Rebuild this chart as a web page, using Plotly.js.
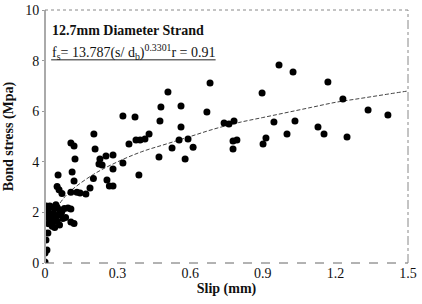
<!DOCTYPE html>
<html><head><meta charset="utf-8">
<script src="https://cdn.plot.ly/plotly-3.0.1.min.js"></script>
<style>body{margin:0;background:#fff}#chart{width:422px;height:304px}</style>
</head><body><div id="chart"></div>
<script>
// Measured data: slip (mm) and bond stress (MPa)
const slip = [0.967,1.025,1.169,0.897,1.231,1.335,1.417,0.740,0.760,0.781,0.946,1.033,1.128,1.153,1.248,1.000,0.777,0.793,0.777,0.913,0.901,
  0.682,0.669,0.612,0.591,0.554,0.562,0.562,0.508,0.479,0.475,0.525,0.579,0.471,
  0.322,0.372,0.376,0.393,0.413,0.430,0.347,0.388,0.322,0.281,0.256,0.266,0.281,0.236,0.227,0.252,0.281,0.223,0.207,0.202,
  0.107,0.120,0.124,0.200,0.186,0.169,0.145,0.107,0.132,0.112,0.120,0.054,0.050,0.058,0.070,0.095,0.107,0.074,0.107,0.120,0.040,0.012,0.004,0.008,0.000,0.000,
  0.010,0.020,0.030,0.040,0.050,0.060,0.070,0.015,0.025,0.035,0.045,0.055,0.065,0.020,0.030,0.040,0.050,0.010,0.015,0.030,0.060,0.080,0.085,0.005,0.045];
const stress = [7.83,7.55,7.15,6.72,6.48,6.05,5.85,5.53,5.49,5.61,5.57,5.61,5.38,5.10,4.98,5.10,4.82,4.86,4.51,4.94,4.70,
  7.11,5.97,4.58,4.90,4.86,5.38,6.21,6.76,6.17,5.61,4.55,4.11,4.19,
  5.81,5.77,4.86,4.86,4.90,5.10,4.70,3.48,3.95,3.72,3.28,3.04,3.04,3.87,4.11,4.23,4.27,3.91,4.51,5.10,
  4.74,4.62,4.11,3.34,2.96,2.73,2.77,2.80,2.80,3.60,3.24,3.48,3.02,2.90,2.75,2.17,2.13,1.76,1.62,1.56,1.40,1.19,0.91,0.51,0.40,0.04,
  2.20,2.25,2.20,2.15,2.20,2.10,2.05,2.00,1.90,1.95,1.85,1.90,1.95,1.70,1.60,1.75,1.65,1.80,1.55,1.45,1.50,2.15,1.80,2.25,2.30];
// Fitted curve, values
const fitSlip = [0.062,0.1,0.2,0.3,0.4,0.5,0.6,0.7,0.8,0.9,1.0,1.1,1.2,1.3,1.4,1.5];
const fitStress = [2.37,2.8,3.5,4.0,4.4,4.7,5.0,5.3,5.55,5.75,5.95,6.15,6.35,6.5,6.65,6.8];
const xTicks = [0,0.3,0.6,0.9,1.2,1.5];
const xTickText = ['0','0.3','0.6','0.9','1.2','1.5'];
const yTicks = [0,2,4,6,8,10];
const yTickText = ['0','2','4','6','8','10'];

const serif = '"Liberation Serif"';
const traces = [
  {x: fitSlip, y: fitStress, mode:'lines', line:{color:'#444', width:1, dash:'4px,2px', shape:'spline'}, hoverinfo:'skip'},
  {x: slip, y: stress, mode:'markers', marker:{color:'#000', size:7}}
];
const layout = {
  width:422, height:304, showlegend:false,
  margin:{l:45, r:14, t:10, b:41},
  paper_bgcolor:'#fff', plot_bgcolor:'#fff',
  font:{family:serif, color:'#111', size:14},
  xaxis:{range:[0,1.5], tickvals:xTicks, ticktext:xTickText, showgrid:false, zeroline:false,
    showline:false, ticks:'', tickfont:{family:serif, size:14, color:'#111'},
    title:{text:'<b>Slip (mm)</b>', font:{family:serif, size:14, color:'#111'}, standoff:1}},
  yaxis:{range:[0,10], tickvals:yTicks, ticktext:yTickText, showgrid:false, zeroline:false,
    showline:false, ticks:'outside', ticklen:2, tickcolor:'#999', tickfont:{family:serif, size:14, color:'#111'},
    title:{text:'<b>Bond stress (Mpa)</b>', font:{family:serif, size:14, color:'#111'}, standoff:8}},
  shapes:[
    {type:'line', xref:'paper', yref:'paper', x0:0, x1:0, y0:0, y1:1, line:{color:'#aaa', width:2}},
    {type:'line', xref:'paper', yref:'paper', x0:0, x1:1, y0:0, y1:0, line:{color:'#666', width:1, dash:'dash'}},
    {type:'line', xref:'paper', yref:'paper', x0:0, x1:1, y0:1, y1:1, line:{color:'#888', width:1, dash:'dot'}},
    {type:'line', xref:'paper', yref:'paper', x0:1, x1:1, y0:0, y1:1, line:{color:'#888', width:1, dash:'dashdot'}},
    {type:'line', xref:'paper', yref:'paper', x0:0.017, x1:0.47, y0:0.803, y1:0.803, line:{color:'#222', width:1}}
  ],
  annotations:[
    {xref:'paper', yref:'paper', x:0.015, y:0.92, xanchor:'left', yanchor:'middle', showarrow:false,
     text:'<b>12.7mm Diameter Strand</b>', font:{family:serif, size:14, color:'#111'}},
    {xref:'paper', yref:'paper', x:0.015, y:0.835, xanchor:'left', yanchor:'middle', showarrow:false,
     text:'f<sub>s</sub>= 13.787(s/ d<sub>b</sub>)<sup>0.3301</sup>r = 0.91', font:{family:serif, size:14, color:'#111'}}
  ]
};
Plotly.newPlot('chart', traces, layout, {staticPlot:true});
</script></body></html>
